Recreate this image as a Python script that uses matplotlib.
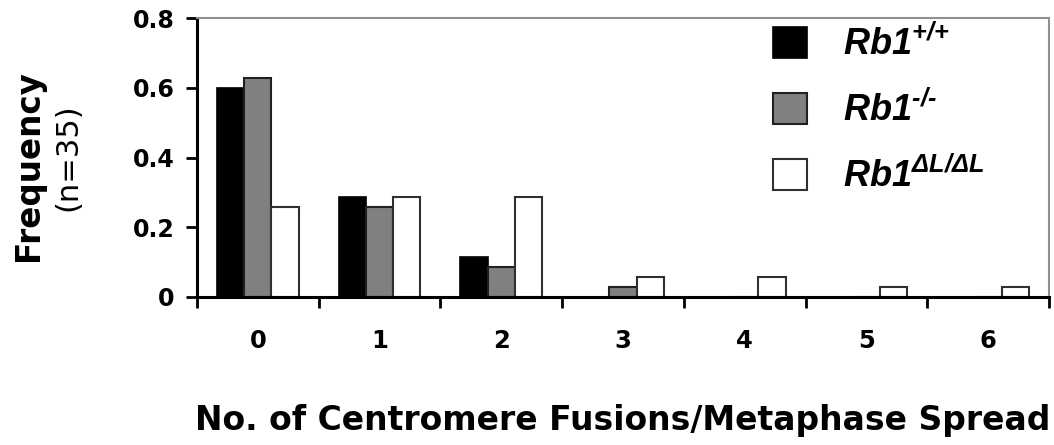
import matplotlib
matplotlib.use('Agg')
import matplotlib.pyplot as plt
import numpy as np

# fusions per metaphase spread, n=35 spreads per genotype
categories = ['0', '1', '2', '3', '4', '5', '6']
wt = [0.600, 0.286, 0.114, 0.0, 0.0, 0.0, 0.0]
ko = [0.629, 0.257, 0.086, 0.029, 0.0, 0.0, 0.0]
dl = [0.257, 0.286, 0.286, 0.057, 0.057, 0.029, 0.029]
series_labels = [r'$Rb1^{\text{+/+}}$', r'$Rb1^{\text{-/-}}$', r'$Rb1^{\Delta L/\Delta L}$']

plt.rcParams['font.family'] = 'DejaVu Sans'
plt.rcParams['mathtext.fontset'] = 'custom'
plt.rcParams['mathtext.rm'] = 'Liberation Sans:bold:italic'
plt.rcParams['mathtext.it'] = 'Liberation Sans:bold:italic'
plt.rcParams['mathtext.bf'] = 'Liberation Sans:bold:italic'

fig = plt.figure(figsize=(10.54, 4.45), dpi=100)
ax = fig.add_axes([197/1054, 1 - 297/445, 852/1054, 279/445])

x = np.arange(len(categories))
w = 0.224
ax.bar(x - w, wt, w, color='black', edgecolor='black', linewidth=1.2, label=series_labels[0])
ax.bar(x, ko, w, color='#808080', edgecolor='#202020', linewidth=1.5, label=series_labels[1])
ax.bar(x + w, dl, w, color='white', edgecolor='#303030', linewidth=1.5, label=series_labels[2])

ax.set_xlim(-0.5, 6.5)
ax.set_ylim(0, 0.8)

ax.set_xticks(np.arange(-0.5, 7, 1))
ax.set_xticklabels([])
ax.set_xticks(x, minor=True)
ax.set_xticklabels(categories, minor=True, fontsize=17.5, fontweight='bold')
ax.tick_params(axis='x', which='major', direction='out', length=8, width=2)
ax.tick_params(axis='x', which='minor', length=0, pad=23)

ax.set_yticks([0, 0.2, 0.4, 0.6, 0.8])
ax.set_yticklabels(['0', '0.2', '0.4', '0.6', '0.8'], fontsize=17, fontweight='bold')
ax.tick_params(axis='y', direction='out', length=8, width=2, pad=8)

for s in ['left', 'bottom']:
    ax.spines[s].set_linewidth(2.2)
    ax.spines[s].set_color('black')
for s in ['top', 'right']:
    ax.spines[s].set_linewidth(1.5)
    ax.spines[s].set_color('#909090')

leg = ax.legend(loc='upper left', bbox_to_anchor=(0.676, 0.975), frameon=False,
                fontsize=26, handlelength=0.95, handleheight=0.95,
                labelspacing=0.8, handletextpad=1.0, borderaxespad=0, borderpad=0)

ax.set_xlabel('No. of Centromere Fusions/Metaphase Spread', fontsize=23.8,
              fontweight='bold', labelpad=37)

fig.text(0.027, 1 - 166/445, 'Frequency', rotation=90, ha='center', va='center',
         fontsize=23.5, fontweight='bold')
fig.text(0.064, 1 - 157/445, '(n=35)', rotation=90, ha='center', va='center',
         fontsize=22)

fig.savefig('out.png', dpi=100)
